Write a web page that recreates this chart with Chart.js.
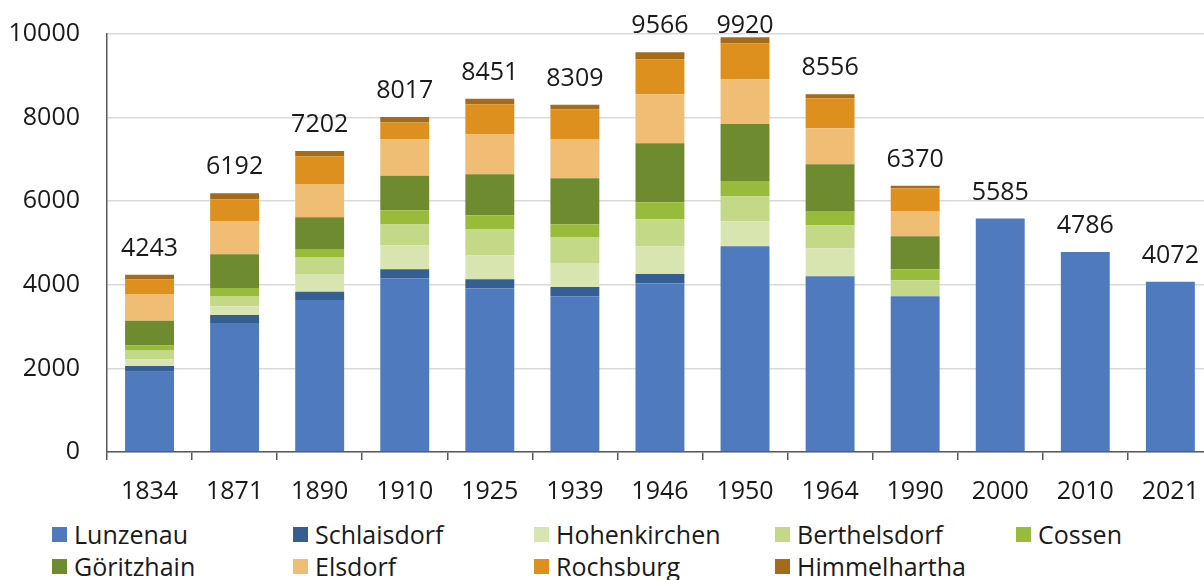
<!DOCTYPE html>
<html lang="de">
<head>
<meta charset="utf-8">
<title>Einwohner Lunzenau</title>
<script src="https://cdn.jsdelivr.net/npm/chart.js@4"></script>
<style>
  html,body{margin:0;padding:0;background:#fff;overflow:hidden}
  #wrap{position:relative;width:1204px;height:580px;overflow:hidden}
  #c{position:absolute;left:0;top:0}
  #legend{position:absolute;left:52px;top:519px;display:grid;grid-template-columns:repeat(5,241px);row-gap:2px;font:25px "Open Sans",sans-serif;color:#1a1a1a}
  .item{display:flex;align-items:center;height:30px;white-space:nowrap}
  .sw{width:15px;height:15px;margin-right:7px;flex:none}
</style>
</head>
<body>
<div id="wrap">
  <canvas id="c" width="1216" height="510"></canvas>
  <div id="legend"></div>
</div>
<script>
// years on the x axis
const years = ['1834','1871','1890','1910','1925','1939','1946','1950','1964','1990','2000','2010','2021'];

// inhabitants per Ortsteil
const lunzenau     = [1920, 3086, 3637, 4156, 3909, 3725, 4029, 4921, 4203, 3725, 5585, 4786, 4072];
const schlaisdorf  = [136, 192, 199, 215, 223, 222, 229, null, null, null, null, null, null];
const hohenkirchen = [160, 208, 423, 574, 574, 575, 663, 598, 670, null, null, null, null];
const berthelsdorf = [222, 246, 407, 495, 615, 607, 646, 591, 550, 383, null, null, null];
const cossen       = [112, 191, 191, 342, 342, 318, 407, 373, 343, 263, null, null, null];
const goeritzhain  = [590, 807, 759, 828, 981, 1101, 1411, 1364, 1117, 789, null, null, null];
const elsdorf      = [640, 782, 796, 873, 949, 940, 1172, 1069, 861, 606, null, null, null];
const rochsburg    = [350, 533, 663, 400, 725, 703, 831, 854, 718, 543, null, null, null];
const himmelhartha = [113, 147, 127, 134, 133, 118, 178, 150, 94, 61, null, null, null];

const yTicks = [0, 2000, 4000, 6000, 8000, 10000];

const series = [
  ['Lunzenau', lunzenau, '#4f7abd'],
  ['Schlaisdorf', schlaisdorf, '#355f92'],
  ['Hohenkirchen', hohenkirchen, '#d8e5b1'],
  ['Berthelsdorf', berthelsdorf, '#c3d987'],
  ['Cossen', cossen, '#98bb3c'],
  ['Göritzhain', goeritzhain, '#6f8b2f'],
  ['Elsdorf', elsdorf, '#efbd74'],
  ['Rochsburg', rochsburg, '#dd901e'],
  ['Himmelhartha', himmelhartha, '#a46b1a']
];

const FONT = '"Open Sans", sans-serif';
const TEXT = '#1a1a1a';

// totals written above every column (kept below the top edge)
const totalsPlugin = {
  id: 'totals',
  afterDatasetsDraw(chart){
    const {ctx, scales:{x,y}} = chart;
    ctx.save();
    ctx.font = '25px ' + FONT;
    ctx.fillStyle = TEXT;
    ctx.textAlign = 'center';
    ctx.textBaseline = 'alphabetic';
    years.forEach((yr,i)=>{
      let sum = 0;
      chart.data.datasets.forEach(ds=>{ sum += ds.data[i]||0; });
      const yy = Math.max(y.getPixelForValue(sum) - 19, 33);
      ctx.fillText(String(sum), x.getPixelForValue(i), yy);
    });
    ctx.restore();
  }
};

const chart = new Chart(document.getElementById('c'), {
  type: 'bar',
  data: {
    labels: years,
    datasets: series.map(([name,data,color])=>({
      label: name,
      data: data,
      backgroundColor: color,
      borderWidth: 0,
      barPercentage: 0.575,
      categoryPercentage: 1
    }))
  },
  options: {
    responsive: false,
    animation: false,
    layout: {padding: {top: 34, right: 1, left: 0, bottom: 0}},
    plugins: {legend: {display: false}, tooltip: {enabled: false}},
    scales: {
      x: {
        stacked: true,
        grid: {display: true, drawOnChartArea: false, offset: true, color: '#595959', tickLength: 8, lineWidth: 1.5},
        border: {color: '#595959', width: 1.5},
        ticks: {font: {family: FONT, size: 25}, color: TEXT, padding: 17, maxRotation: 0},
        afterFit(s){ s.height = 58; }
      },
      y: {
        stacked: true,
        min: 0, max: 10000,
        afterBuildTicks(s){ s.ticks = yTicks.map(v=>({value:v})); },
        // invisible tick marks give the gap between labels and axis
        grid: {color: '#d9d9d9', lineWidth: 1.5, drawTicks: true, tickLength: 27, tickColor: 'rgba(0,0,0,0)'},
        border: {color: '#595959', width: 1.5},
        ticks: {font: {family: FONT, size: 25}, color: TEXT, padding: 0, callback: v => String(v)},
        afterFit(s){ s.width = 107; }
      }
    }
  },
  plugins: [totalsPlugin]
});

// legend in five fixed columns, built from the datasets
const leg = document.getElementById('legend');
series.forEach(([name,,color])=>{
  const it = document.createElement('div'); it.className = 'item';
  it.innerHTML = '<span class="sw" style="background:'+color+'"></span><span>'+name+'</span>';
  leg.appendChild(it);
});
</script>
</body>
</html>
